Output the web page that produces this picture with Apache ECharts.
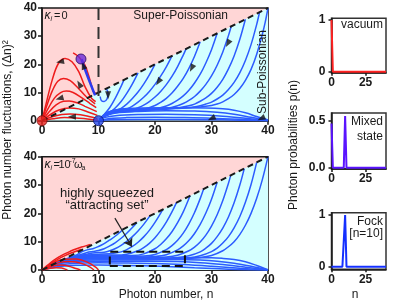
<!DOCTYPE html>
<html><head><meta charset="utf-8">
<script src="https://cdn.jsdelivr.net/npm/echarts@6/dist/echarts.min.js"></script>
<style>html,body{margin:0;padding:0;background:#fff}#c{width:395px;height:308px}</style>
</head><body><div id="c"></div>
<script>
// ================= DATA =================
const ticksMain = [0, 10, 20, 30, 40];
const diagBoundary = [[0, 0], [40, 40]];
const fockLine = [[10, 40], [10, 7.5]];

// top panel (kappa_i = 0): red trajectories
const redTopA = [[9.6,9.6],[9.1,10.3],[8.5,14.4],[7.6,19.7],[6.5,22.7],[5.5,24.1]];
const redTopB = [[0,0],[0.6,5],[1.8,14.4],[2.9,20.3],[4.1,22.1],[5.3,20.9],[6.5,17.4],[7.6,12.1],[8.8,7.9],[9.5,6.8]];
const redTopC = [[0,0],[0.8,5],[1.8,10.5],[2.8,14],[3.8,15],[5,14.2],[6.3,11.8],[7.8,8.6],[9.4,6]];
const redTopD = [[0,0],[1,4],[2.2,8],[3.3,10],[4.3,10.5],[5.5,10],[7,8.2],[8.5,6.1],[9.6,4.6]];
const redTopE = [[0,0],[1.2,3],[2.5,5.6],[3.8,6.9],[4.8,7],[6.2,6.4],[7.6,5.1],[9.7,3.2]];
const redTopF = [[0,0],[1.5,2.2],[3,3.8],[4.8,4.5],[6.5,4.2],[8,3.2],[9.8,1.9]];
const redTopG = [[0,0],[1.8,1.4],[3.5,2.2],[5,2.4],[6.8,2.1],[8.3,1.5],[9.8,0.8]];
const redTopH = [[0,0],[2,0.7],[4,1.1],[6,1],[8,0.6],[9.9,0.2]];
// top panel: blue trajectories
const blueTopPath = [[9.4,9.0],[8.6,13],[7.8,17.2],[7.0,21.8]];
const blueTopLoop = [[11.4,11.4],[11.7,9.6],[11.5,7.7],[11,6.8],[10.5,7.2],[10.3,8.6]];
const blueTopD14 = [[14.5,14.5],[14,12.2],[13,8.1],[12,4.7],[11,2.2],[10.3,0.8]];
const blueTopD17 = [[17,17],[16,13.1],[15,9.7],[14,6.8],[13,4.6],[12,2.9],[11,1.7],[10.3,0.7]];
const blueTopD20 = [[20,20],[19,16.3],[18,13],[17,10.2],[16,7.9],[15,5.9],[14,4.4],[13,3.3],[12,2.4],[11,1.5],[10.2,0.4]];
const blueTopD23 = [[23,23],[22,19.1],[21,15.8],[20,12.9],[19,10.4],[18,8.3],[17,6.6],[16,5.2],[15,4.2],[14,3.5],[13,3],[12,2.4],[11,1.5],[10.2,0.3]];
const blueTopD25 = [[25.5,25.5],[25,23.3],[24,19.2],[23,15.7],[22,12.8],[21,10.4],[20,8.4],[19,6.8],[18,5.5],[17,4.6],[16,3.9],[14,3.1],[12,2.5],[11,1.6],[10.2,0.3]];
const blueTopD28 = [[28,28],[27,22.9],[26,18.6],[25,15],[24,12.2],[23,9.8],[22,7.9],[21,6.5],[20,5.4],[18,4],[16,3.3],[14,3.05],[12,2.6],[11,1.7],[10.2,0.3]];
const blueTopD31 = [[31,31],[30,25.2],[29,20.5],[28,16.5],[27,13.4],[26,10.8],[25,8.8],[24,7.3],[23,6.1],[22,5.2],[20,4.1],[18,3.6],[15,3.35],[12,2.7],[11,1.8],[10.2,0.3]];
const blueTopD33 = [[33.5,33.5],[33,30.2],[32,24.4],[31,19.7],[30,15.9],[29,12.9],[28,10.5],[27,8.6],[26,7.2],[25,6.1],[24,5.3],[22,4.3],[20,3.9],[16,3.65],[12,2.8],[11,1.9],[10.2,0.3]];
const blueTopD36 = [[36,36],[35,28.8],[34,23],[33,18.4],[32,14.7],[31,11.9],[30,9.7],[29,8.1],[28,6.9],[27,5.9],[26,5.3],[24,4.5],[22,4.1],[18,3.95],[14,3.7],[12,2.9],[11,2],[10.2,0.3]];
const blueTopD38 = [[38.5,38.5],[38,34.2],[37,27],[36,21.4],[35,17],[34,13.6],[33,11.1],[32,9.1],[31,7.7],[30,6.6],[29,5.9],[28,5.3],[26,4.6],[23,4.3],[18,4.2],[14,3.9],[12,3],[11,2.1],[10.2,0.3]];
const blueTopD40 = [[40,40],[39.5,34.9],[39,30.7],[38,23.6],[37,18.2],[36,14.3],[35,11.4],[34,9.3],[33,7.8],[32,6.7],[31,5.9],[30,5.4],[28,4.9],[25,4.6],[20,4.5],[15,4.3],[12.5,3.6],[11,2.2],[10.2,0.3]];
const blueTopB1 = [[40,0.3],[38,1.5],[36,2.8],[34,3.7],[32,4.2],[29,4.5],[25,4.6],[20,4.5],[15,4.2],[12.5,3.5],[11,2.2],[10.2,0.3]];
const blueTopB2 = [[40,0.1],[37,1.2],[34,2.3],[31,3],[27,3.4],[22,3.5],[17,3.3],[13,2.7],[11,1.6],[10.2,0.3]];
const blueTopB3 = [[40,0.05],[36,0.9],[32,1.6],[27,2.1],[22,2.3],[17,2.2],[13,1.8],[11,1.1],[10.2,0.2]];
const blueTopB4 = [[40,0],[35,0.5],[30,0.9],[25,1.1],[20,1.2],[15,1.1],[12,0.8],[10.2,0.1]];
const blueTopB5 = [[40,0],[32,0.3],[24,0.45],[17,0.45],[12,0.3],[10.2,0.05]];
// arrowheads on top panel: [n, value, rotation deg (counter-clockwise from "up")]
const topArrows = [[3.2,20.9,100],[7.3,19.6,20],[6.6,13,30],[3.1,7.9,105],[5.3,1.4,90],[11.7,9,180],[20.6,13.8,146],[26.5,18.6,153],[32.9,27.4,150],[30,0.8,115],[38.8,0.8,115]];
// state points
const vacuumPoint = [0, 0];
const fockPoint = [10, 0];
const mixedPoint = [6.9, 21.9];

// bottom panel (kappa_i = 1e-7 omega_a)
const redBotA = [[0,0],[1,1.7],[2,3.3],[3,4.6],[4,5.7],[5,6.6],[6,7.4],[7,8.1],[8,8.7],[8.6,9]];
const redBotB = [[0,0],[1,1.4],[2,2.8],[3,4],[4,5],[5,5.9],[6,6.6],[7,7.3]];
const redBotC = [[0,0],[1,0.9],[2,1.5],[3,1.8],[4,1.7],[5,1.2],[6,0.5],[6.8,0]];
const redBotD = [[0,0],[1.5,1.6],[3,2.6],[4.5,3],[6,2.8],[7.5,2],[8.5,1],[9.2,0]];
const redBotE = [[0,0],[1.5,0.6],[2.5,0.8],[3.5,0.7],[4.5,0]];
const redBotF = [[0,0],[2,2.6],[4,3.8],[6,3.9],[8,2.8],[9.5,1],[10,0]];
const blueBotD14 = [[14.4,14.4],[14,13.7],[13,12],[12,10.6],[11,9.3],[10,8.3],[9,7.5],[8,7.1],[7,6.4],[6,5.2],[4,3.7],[2,1.95],[0.3,0.25]];
const blueBotD17 = [[16.8,16.8],[16,15],[15,13],[14,11.2],[13,9.7],[12,8.5],[11,7.5],[10,6.9],[9,6.55],[8,6.2],[6,4.9],[4,3.65],[2,1.95],[0.3,0.25]];
const blueBotD19 = [[19.1,19.1],[18,16.1],[17,13.8],[16,11.8],[15,10.1],[14,8.7],[13,7.6],[12,6.8],[11,6.3],[9,6],[8,5.6],[6,4.7],[4,3.6],[2,1.95],[0.3,0.25]];
const blueBotD21 = [[21.4,21.4],[20,16.8],[19,14],[18,11.7],[17,9.8],[16,8.3],[15,7.2],[14,6.4],[12,5.7],[10,5.6],[8,5.3],[6,4.6],[4,3.6],[2,1.95],[0.3,0.25]];
const blueBotD24 = [[23.8,23.8],[23,20.5],[22,16.9],[21,13.9],[20,11.4],[19,9.4],[18,7.9],[17,6.8],[15,5.6],[13,5.3],[10,5.3],[8,5.1],[6,4.5],[4,3.55],[2,1.95],[0.3,0.25]];
const blueBotD26 = [[26.2,26.2],[25,20.5],[24,16.7],[23,13.5],[22,11],[21,9],[20,7.5],[18,5.7],[16,5.1],[12,5],[10,5],[8,4.9],[6,4.3],[4,3.5],[2,1.9],[0.3,0.25]];
const blueBotD29 = [[28.6,28.6],[28,25.2],[27,20.3],[26,16.3],[25,13],[24,10.5],[23,8.6],[22,7.2],[20,5.5],[18,4.9],[15,4.8],[10,4.8],[8,4.7],[6,4.2],[4,3.45],[2,1.9],[0.3,0.25]];
const blueBotD31 = [[31,31],[30,25],[29,20.1],[28,16.1],[27,12.9],[26,10.4],[25,8.5],[24,7.1],[22,5.4],[20,4.8],[17,4.6],[12,4.6],[10,4.6],[8,4.5],[6,4.1],[4,3.4],[2,1.85],[0.3,0.25]];
const blueBotD33 = [[33.4,33.4],[33,30.6],[32,24.5],[31,19.5],[30,15.5],[29,12.3],[28,9.9],[27,8.1],[26,6.8],[24,5.2],[22,4.6],[19,4.4],[15,4.4],[10,4.4],[8,4.3],[6,4],[4,3.35],[2,1.85],[0.3,0.25]];
const blueBotD36 = [[35.8,35.8],[35,29.9],[34,23.7],[33,18.7],[32,14.8],[31,11.8],[30,9.4],[29,7.7],[28,6.4],[26,5],[24,4.4],[21,4.2],[15,4.2],[10,4.25],[8,4.2],[6,3.9],[4,3.3],[2,1.8],[0.3,0.25]];
const blueBotD38 = [[38,38],[37,30.2],[36,23.9],[35,18.8],[34,14.9],[33,11.8],[32,9.5],[31,7.7],[30,6.5],[28,5],[26,4.3],[23,4.1],[15,4.1],[10,4.1],[8,4.1],[6,3.85],[4,3.25],[2,1.8],[0.3,0.25]];
const blueBotD40 = [[40,40],[39,31.9],[38,25.3],[37,20],[36,15.8],[35,12.5],[34,10],[33,8.2],[32,6.8],[30,5.1],[28,4.4],[25,4.05],[20,4],[15,4],[10,4],[8,4],[6,3.8],[4,3.2],[2,1.8],[0.3,0.25]];
const blueBotE1 = [[40,0.1],[38,1.6],[36,2.9],[34,3.7],[32,4.1],[30,4.3],[26,4.3],[22,4.1],[18,3.9],[14,3.9],[10,3.9],[8,3.9],[6,3.7],[4,3.1],[2,1.75],[0.3,0.25]];
const blueBotE2 = [[40,0.05],[37,1.3],[34,2.4],[31,3.1],[28,3.5],[24,3.7],[20,3.6],[15,3.5],[10,3.5],[7,3.4],[5,3.1],[3,2.4],[1.5,1.3],[0.3,0.25]];
const blueBotE3 = [[40,0],[36,1],[32,1.9],[28,2.6],[24,3],[20,3.1],[15,3.1],[10,3.1],[7,3],[5,2.8],[3,2.2],[1.5,1.2],[0.3,0.2]];
const blueBotE4 = [[40,0],[35,0.6],[30,1.3],[25,1.9],[20,2.3],[15,2.5],[10,2.6],[7,2.5],[4,2],[2,1.2],[0.3,0.2]];
const blueBotE5 = [[40,0],[33,0.3],[27,0.8],[21,1.3],[15,1.6],[10,1.8],[6,1.7],[3,1.2],[0.3,0.15]];
const attractBox = [[12,1.4],[25.3,1.4],[25.3,6.4],[12,6.4],[12,1.4]];
const attractArrow = [[12.9,18.3],[15.9,8.2]];

// right panels: photon number distributions
const nValues = [0,1,2,3,4,5,6,7,8,9,10,11,12,13,14,15,16,17,18,19,20,21,22,23,24,25,26,27,28,29,30,31,32,33,34,35,36,37,38,39,40];
const pVacuum = [1,0,0,0,0,0,0,0,0,0,0,0,0,0,0,0,0,0,0,0,0,0,0,0,0,0,0,0,0,0,0,0,0,0,0,0,0,0,0,0,0];
const pMixed  = [0.47,0,0,0,0,0,0,0,0,0,0.55,0,0,0,0,0,0,0,0,0,0,0,0,0,0,0,0,0,0,0,0,0,0,0,0,0,0,0,0,0,0];
const pFock   = [0,0,0,0,0,0,0,0,0,0,1,0,0,0,0,0,0,0,0,0,0,0,0,0,0,0,0,0,0,0,0,0,0,0,0,0,0,0,0,0,0];

// ================= CHART =================
const FONT = 'Liberation Sans, Arial, sans-serif';
const BLUE = '#2c5cff', RED = '#ee1c1c', PINK = '#ffd6d6', CYAN = '#d4ffff', INK = '#1a1a1a';
const chart = echarts.init(document.getElementById('c'), null, {renderer: 'canvas'});

function ln(data, g, color, width, z, extra) {
  return Object.assign({type: 'line', xAxisIndex: g, yAxisIndex: g, data: data, showSymbol: false, symbol: 'none',
    smooth: 0.35, lineStyle: {color: color, width: width}, z: z, silent: true}, extra || {});
}
const tickLabel = {fontFamily: FONT, fontSize: 12, fontWeight: 'bold', color: INK};
function mainX(g) {
  return {gridIndex: g, type: 'value', min: 0, max: 40, interval: 10,
    axisLine: {onZero: false, lineStyle: {color: INK, width: 1.5}},
    axisTick: {length: 4, lineStyle: {color: INK, width: 1.5}},
    axisLabel: Object.assign({margin: 4}, tickLabel), splitLine: {show: false}};
}
function mainY(g) {
  return {gridIndex: g, type: 'value', min: 0, max: 40, interval: 10,
    axisLine: {onZero: false, lineStyle: {color: INK, width: 1.5}},
    axisTick: {length: 4, lineStyle: {color: INK, width: 1.5}},
    axisLabel: Object.assign({margin: 5}, tickLabel), splitLine: {show: false}};
}
function smallX(g) {
  return {gridIndex: g, type: 'value', min: 0, max: 40,
    axisLine: {onZero: false, lineStyle: {color: INK, width: 1.5}},
    axisTick: {length: 3, customValues: [0, 25], lineStyle: {color: INK, width: 1.5}},
    axisLabel: Object.assign({margin: 4, customValues: [0, 25]}, tickLabel), splitLine: {show: false}};
}
function smallY(g, mn, mx, vals, fmt) {
  return {gridIndex: g, type: 'value', min: mn, max: mx,
    axisLine: {onZero: false, lineStyle: {color: INK, width: 1.5}},
    axisTick: {length: 3, customValues: vals, lineStyle: {color: INK, width: 1.5}},
    axisLabel: Object.assign({margin: 6, customValues: vals, formatter: fmt}, tickLabel), splitLine: {show: false}};
}

const series = [];
[0, 1].forEach(g => series.push(ln(diagBoundary, g, CYAN, 0, 1, {smooth: false, areaStyle: {color: CYAN, opacity: 1}})));
[blueTopD14, blueTopD17, blueTopD20, blueTopD23, blueTopD25, blueTopD28, blueTopD31, blueTopD33, blueTopD36, blueTopD38, blueTopD40,
 blueTopB1, blueTopB2, blueTopB3, blueTopB4, blueTopB5, blueTopLoop].forEach(d => series.push(ln(d, 0, BLUE, 1.5, 2)));
[redTopA, redTopB, redTopC, redTopD, redTopE, redTopF, redTopG, redTopH].forEach(d => series.push(ln(d, 0, RED, 1.5, 3)));
[blueBotD14, blueBotD17, blueBotD19, blueBotD21, blueBotD24, blueBotD26, blueBotD29, blueBotD31, blueBotD33, blueBotD36, blueBotD38, blueBotD40,
 blueBotE1, blueBotE2, blueBotE3, blueBotE4, blueBotE5].forEach(d => series.push(ln(d, 1, BLUE, 1.5, 2)));
[redBotA, redBotB, redBotC, redBotD, redBotE, redBotF].forEach(d => series.push(ln(d, 1, RED, 1.5, 3)));
[0, 1].forEach(g => series.push(ln(diagBoundary, g, INK, 2, 4, {smooth: false, lineStyle: {color: INK, width: 2, type: [6, 4]}})));
series.push(ln(fockLine, 0, '#333', 2, 4, {smooth: false, lineStyle: {color: '#333', width: 2, type: [12, 7]}}));
series.push(ln(blueTopPath, 0, '#2a3cf0', 2.5, 5, {smooth: 0.2}));
series.push({type: 'scatter', xAxisIndex: 0, yAxisIndex: 0, z: 6, silent: true,
  symbol: 'triangle', symbolSize: [6, 8], itemStyle: {color: '#111'},
  data: topArrows.map(a => ({value: [a[0], a[1]], symbolRotate: a[2]}))});
series.push({type: 'scatter', xAxisIndex: 0, yAxisIndex: 0, z: 7, silent: true, symbolSize: 10, clip: false,
  data: [
    {value: vacuumPoint, itemStyle: {color: '#e8211b', borderColor: '#7a0a0a', borderWidth: 1}},
    {value: fockPoint, itemStyle: {color: '#2446e8', borderColor: '#0a1470', borderWidth: 1}},
    {value: mixedPoint, itemStyle: {color: '#6a2ad8', borderColor: '#2a0a60', borderWidth: 1}}
  ]});
series.push(ln(attractBox, 1, '#111', 2, 6, {smooth: false, lineStyle: {color: '#111', width: 2, type: [8, 5]},
  markLine: {silent: true, symbol: ['none', 'arrow'], symbolSize: 8, label: {show: false},
    lineStyle: {color: '#222', width: 1.2, type: 'solid'},
    data: [[{coord: attractArrow[0]}, {coord: attractArrow[1]}]]}}));
const pairs = arr => nValues.map((n, i) => [n, arr[i]]);
series.push(ln(pairs(pVacuum), 2, '#ff2222', 2, 3, {smooth: false}));
series.push(ln(pairs(pMixed), 3, '#5a14ff', 2, 3, {smooth: false}));
series.push(ln(pairs(pFock), 4, '#1530ff', 2, 3, {smooth: false}));

const t = (x, y, text, o) => ({type: 'text', x: x, y: y, z: 100, silent: true, rotation: (o && o.rot) || 0,
  style: Object.assign({text: text, fontFamily: FONT, fontSize: 12, fill: INK, textAlign: 'center', textVerticalAlign: 'middle'}, o && o.style || {})});
const L = (s) => Object.assign({textAlign: 'left'}, s);

chart.setOption({
  animation: false,
  grid: [
    {left: 42, top: 8, right: 127, bottom: 187.3, show: true, backgroundColor: PINK, borderColor: INK, borderWidth: 1.5},
    {left: 42, top: 156.7, right: 127, bottom: 38, show: true, backgroundColor: PINK, borderColor: INK, borderWidth: 1.5},
    {left: 331.5, top: 18.3, right: 9, bottom: 235.3, show: true, borderColor: '#333', borderWidth: 1.5},
    {left: 331.5, top: 113, right: 9, bottom: 139, show: true, borderColor: '#333', borderWidth: 1.5},
    {left: 331.5, top: 212.7, right: 9, bottom: 38.7, show: true, borderColor: '#333', borderWidth: 1.5}
  ],
  xAxis: [mainX(0), mainX(1), smallX(2), smallX(3), smallX(4)],
  yAxis: [mainY(0), mainY(1),
    smallY(2, -0.02, 1.033, [0, 1], v => String(v)),
    smallY(3, -0.014, 0.582, [0, 0.5], v => v.toFixed(1)),
    smallY(4, -0.05, 1.044, [0, 1], v => String(v))],
  series: series,
  graphic: [
    t(44.5, 16, 'κ', {style: L({fontStyle: 'italic', fontSize: 12})}),
    t(50.5, 19.5, 'i', {style: L({fontStyle: 'italic', fontSize: 7})}),
    t(54, 16, '=', {style: L({fontSize: 11})}),
    t(61.5, 16, '0', {style: L({fontSize: 11})}),
    t(228, 16, 'Super-Poissonian', {style: {textAlign: 'right'}}),
    t(263, 72, 'Sub-Poissonian', {rot: Math.PI / 2}),
    t(44.5, 165, 'κ', {style: L({fontStyle: 'italic', fontSize: 12})}),
    t(50.5, 168.5, 'i', {style: L({fontStyle: 'italic', fontSize: 7})}),
    t(53.5, 165, '=', {style: L({fontSize: 11})}),
    t(58.5, 165, '10', {style: L({fontSize: 11})}),
    t(69.5, 161, '-7', {style: L({fontSize: 7})}),
    t(74, 165, 'ω', {style: L({fontSize: 11})}),
    t(81.5, 168.5, 'a', {style: L({fontSize: 7})}),
    t(107, 193, 'highly squeezed', {style: {fontSize: 13}}),
    t(107, 205, '“attracting set”', {style: {fontSize: 13}}),
    t(8, 130, 'Photon number fluctuations, (Δn)²', {rot: Math.PI / 2}),
    t(166, 295, 'Photon number, n'),
    t(293.5, 145, 'Photon probabilities p(n)', {rot: Math.PI / 2}),
    t(383, 25, 'vacuum', {style: {textAlign: 'right'}}),
    t(383, 122, 'Mixed', {style: {textAlign: 'right'}}),
    t(383, 136.5, 'state', {style: {textAlign: 'right'}}),
    t(383, 221.5, 'Fock', {style: {textAlign: 'right'}}),
    t(383, 233.5, '[n=10]', {style: {textAlign: 'right'}}),
    t(355, 295, 'n')
  ]
});
</script></body></html>
